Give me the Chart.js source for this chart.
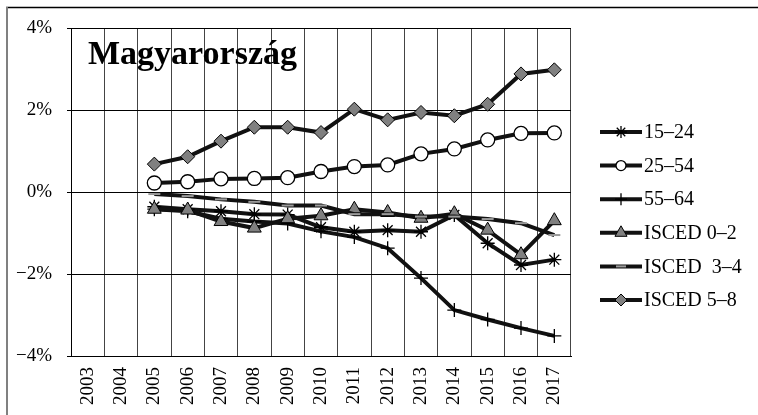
<!DOCTYPE html>
<html>
<head>
<meta charset="utf-8">
<script src="https://cdn.jsdelivr.net/npm/chart.js@4/dist/chart.umd.min.js"></script>
<style>
  html, body { margin: 0; padding: 0; background: #fff; }
  #wrap { width: 758px; height: 415px; position: relative; }
</style>
</head>
<body>
<div id="wrap"><canvas id="chart"></canvas></div>
<script>
const years = ["2003", "2004", "2005", "2006", "2007", "2008", "2009", "2010", "2011", "2012", "2013", "2014", "2015", "2016", "2017"];
const seriesNames = ["15–24", "25–54", "55–64", "ISCED 0–2", "ISCED  3–4", "ISCED 5–8"];

// values in percent, 2003 and 2004 missing
const age15_24 = [null, null, -0.36, -0.42, -0.47, -0.54, -0.55, -0.86, -0.97, -0.93, -0.97, -0.56, -1.25, -1.78, -1.65];
const age25_54 = [null, null, 0.22, 0.25, 0.32, 0.33, 0.35, 0.50, 0.62, 0.66, 0.93, 1.05, 1.27, 1.43, 1.44];
const age55_64 = [null, null, -0.42, -0.47, -0.65, -0.72, -0.77, -0.96, -1.10, -1.37, -2.10, -2.88, -3.11, -3.32, -3.51];
const isced0_2 = [null, null, -0.42, -0.44, -0.72, -0.88, -0.65, -0.58, -0.42, -0.50, -0.64, -0.53, -0.93, -1.53, -0.70];
const isced3_4 = [null, null, -0.05, -0.10, -0.18, -0.24, -0.33, -0.33, -0.54, -0.54, -0.60, -0.60, -0.66, -0.76, -1.05];
const isced5_8 = [null, null, 0.68, 0.86, 1.24, 1.58, 1.58, 1.45, 2.02, 1.76, 1.94, 1.86, 2.14, 2.88, 2.98];

const yTicks = [-4, -2, 0, 2, 4];
const chartTitle = "Magyarország";

const serif = "'Liberation Serif', 'DejaVu Serif', serif";

const markers = [
  { pointStyle: "star", radius: 7, legendRadius: 6, bg: "#000", border: "#000", bw: 1.3 },
  { pointStyle: "circle", radius: 7, legendRadius: 5, bg: "#fff", border: "#000", bw: 1.3 },
  { pointStyle: "cross", radius: 7, legendRadius: 6, bg: "#000", border: "#000", bw: 1.3 },
  { pointStyle: "triangle", radius: 8, legendRadius: 7, bg: "#808080", border: "#000", bw: 1 },
  { pointStyle: "line", radius: 6, legendRadius: 5, bg: "#9a9a9a", border: "#9a9a9a", bw: 2 },
  { pointStyle: "rectRot", radius: 7, legendRadius: 6, bg: "#808080", border: "#000", bw: 1 }
];

const allData = [age15_24, age25_54, age55_64, isced0_2, isced3_4, isced5_8];

const datasets = allData.map((d, i) => ({
  label: seriesNames[i],
  data: d,
  borderColor: "#111",
  borderWidth: 4,
  tension: 0,
  spanGaps: false,
  pointStyle: markers[i].pointStyle,
  pointRadius: markers[i].radius,
  pointBackgroundColor: markers[i].bg,
  pointBorderColor: markers[i].border,
  pointBorderWidth: markers[i].bw,
  order: 6 - i
}));

// frame, title and legend
const extras = {
  id: "extras",
  afterDraw(chart) {
    const ctx = chart.ctx;
    const area = chart.chartArea;
    ctx.save();
    // outer frame (top and left only)
    ctx.strokeStyle = "#000";
    ctx.lineWidth = 1.5;
    ctx.beginPath();
    ctx.moveTo(6, 7.5);
    ctx.lineTo(758, 7.5);
    ctx.stroke();
    ctx.strokeStyle = "#808080";
    ctx.lineWidth = 2;
    ctx.beginPath();
    ctx.moveTo(7, 7);
    ctx.lineTo(7, 415);
    ctx.stroke();

    // title inside the plot
    ctx.fillStyle = "#000";
    ctx.font = "bold 34px " + serif;
    ctx.textBaseline = "alphabetic";
    ctx.textAlign = "left";
    ctx.fillText(chartTitle, area.left + 17, 64);

    // legend
    const lx = 600, lw = 42, y0 = 132, step = 33.6;
    ctx.font = "20px " + serif;
    ctx.textBaseline = "middle";
    chart.data.datasets.forEach((ds, i) => {
      const y = y0 + i * step;
      ctx.strokeStyle = "#111";
      ctx.lineWidth = 4;
      ctx.beginPath();
      ctx.moveTo(lx, y);
      ctx.lineTo(lx + lw, y);
      ctx.stroke();
      ctx.fillStyle = ds.pointBackgroundColor;
      ctx.strokeStyle = ds.pointBorderColor;
      ctx.lineWidth = ds.pointBorderWidth;
      Chart.helpers.drawPoint(ctx, {
        pointStyle: ds.pointStyle,
        radius: markers[i].legendRadius,
        borderWidth: ds.pointBorderWidth,
        rotation: 0
      }, lx + lw / 2, y);
      ctx.fillStyle = "#000";
      ctx.fillText(ds.label, lx + lw + 2, y + 1);
    });
    ctx.restore();
  }
};

new Chart(document.getElementById("chart"), {
  type: "line",
  data: { labels: years, datasets: datasets },
  options: {
    responsive: true,
    maintainAspectRatio: false,
    animation: false,
    layout: { padding: { top: 28, right: 187, bottom: 0, left: 0 } },
    plugins: {
      legend: { display: false },
      tooltip: { enabled: false },
      title: { display: false }
    },
    scales: {
      x: {
        offset: true,
        grid: { offset: true, color: "#444", lineWidth: 1, drawTicks: false },
        border: { color: "#000", width: 1 },
        ticks: {
          minRotation: 90,
          maxRotation: 90,
          padding: 11,
          color: "#000",
          font: { family: serif, size: 19 }
        },
        afterFit(scale) { scale.height = 59; }
      },
      y: {
        min: -4,
        max: 4,
        afterBuildTicks(scale) { scale.ticks = yTicks.map(v => ({ value: v })); },
        grid: { color: "#000", lineWidth: 1, tickLength: 4 },
        border: { color: "#000", width: 1 },
        ticks: {
          padding: 15,
          color: "#000",
          font: { family: serif, size: 19 },
          callback: v => (v < 0 ? "−" + Math.abs(v) : v) + "%"
        },
        afterFit(scale) { scale.width = 71; }
      }
    }
  },
  plugins: [extras]
});
</script>
</body>
</html>
